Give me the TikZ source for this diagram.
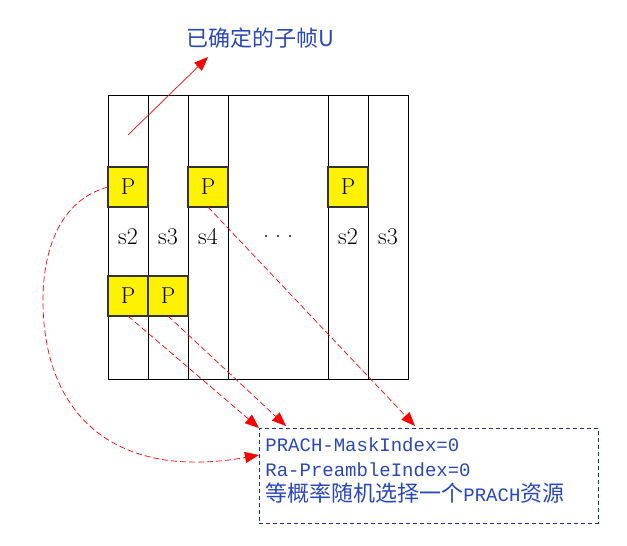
\documentclass[tikz,border=0pt]{standalone}
\usepackage{fontspec}
\newfontfamily\cjk{Noto Sans CJK SC}
\newfontfamily\mono{Liberation Mono}
\usetikzlibrary{positioning,calc,arrows.meta}
\definecolor{tblue}{RGB}{40,70,190}
\definecolor{bblue}{RGB}{30,50,130}

\begin{document}
\begin{tikzpicture}[
            x=1pt, y=-1pt,
            col/.style={rectangle, draw=black, line width=0.8pt, minimum height=284pt, outer sep=0pt, inner sep=0pt, font=\fontsize{24}{24}\selectfont},
            pbox/.style={rectangle, draw=black!80, fill=yellow, line width=1.8pt, minimum size=40pt, outer sep=0pt, inner sep=0pt, font=\fontsize{23}{23}\selectfont},
            infobox/.style={rectangle, draw=bblue, dash pattern=on 4pt off 3pt, line width=0.8pt, text=tblue, align=left, text width=327pt, inner xsep=6pt, inner ysep=9.5pt, text depth=62pt, font=\mono\fontsize{19}{25}\selectfont},
            title/.style={text=tblue, font=\cjk\fontsize{22}{22}\selectfont},
            link/.style={draw=red, line width=0.7pt, dash pattern=on 6pt off 3pt, -{Triangle[length=14pt,width=11pt,fill=red]}},
            pointer/.style={draw=red, line width=0.7pt, -{Triangle[length=14pt,width=11pt,fill=red]}}
        ]
            \useasboundingbox (0,0) rectangle (627,546);

            \node[title] (title) at (260,38) {已确定的子帧U};

            \node[col, minimum width=40pt] (c1) at (128,237) {s2};
            \node[col, minimum width=40pt, right=0pt of c1] (c2) {s3};
            \node[col, minimum width=40pt, right=0pt of c2] (c3) {s4};
            \node[col, minimum width=100pt, right=0pt of c3] (c4) {.\hspace{6pt}.\hspace{6pt}.};
            \node[col, minimum width=40pt, right=0pt of c4] (c5) {s2};
            \node[col, minimum width=40pt, right=0pt of c5] (c6) {s3};

            \node[pbox, below=72pt of c1.north] (p1) {P};
            \node[pbox, below=72pt of c3.north] (p2) {P};
            \node[pbox, below=72pt of c5.north] (p3) {P};
            \node[pbox, below=181pt of c1.north] (p4) {P};
            \node[pbox, right=0pt of p4] (p5) {P};

            \node[infobox, anchor=north west] (box) at (259,428) {%
                PRACH-MaskIndex=0\\
                Ra-PreambleIndex=0\\
                {\cjk\fontsize{22}{25}\selectfont 等概率随机选择一个}PRACH{\cjk\fontsize{22}{25}\selectfont 资源}};

            \coordinate (ustart) at (128,135);
            \coordinate (utip) at (208,57);
            \coordinate (in1) at (box.north west);
            \coordinate (in2) at ($(box.north west)+(27,-2)$);
            \coordinate (in3) at ($(box.north west)+(156,-2)$);
            \coordinate (in4) at ($(box.north west)+(0,27)$);

            \draw[pointer] (ustart) -- (utip);
            \draw[link] (p4.south) -- (in1);
            \draw[link] (p5.south) -- (in2);
            \draw[link] (p2.south) -- (in3);
            \draw[link] (p1.west) .. controls (60,200) and (43,250) .. (43,300)
                .. controls (43,420) and (120,480) .. (in4);
        \end{tikzpicture}
\end{document}
